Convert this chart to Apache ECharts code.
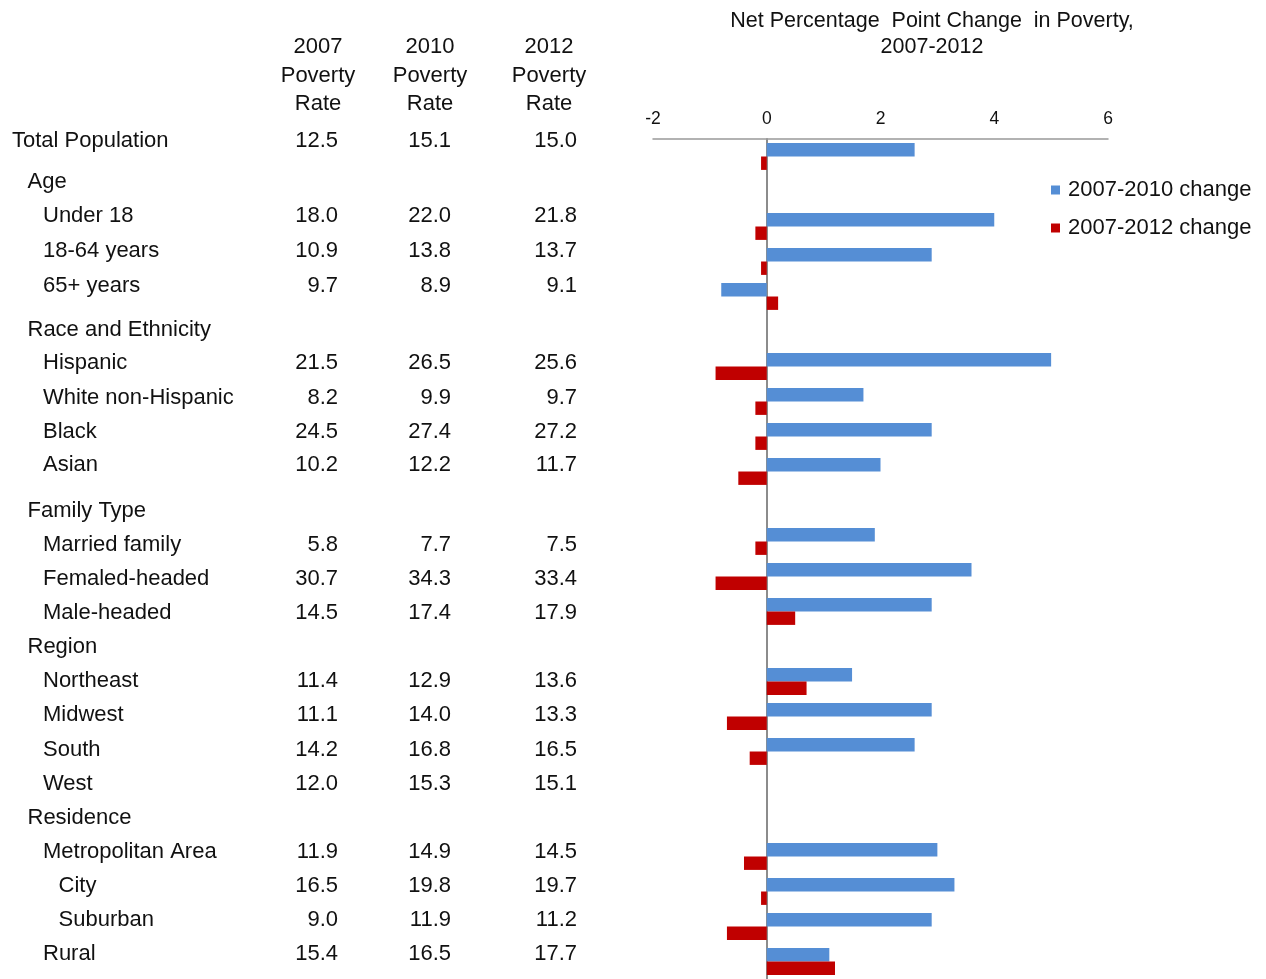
<!DOCTYPE html>
<html>
<head>
<meta charset="utf-8">
<script src="https://cdn.jsdelivr.net/npm/echarts@6/dist/echarts.min.js"></script>
<style>
  html, body { margin: 0; padding: 0; background: #fff; }
  #chart { width: 1266px; height: 979px; }
</style>
</head>
<body>
<div id="chart"></div>
<script>
// Row labels of the table (also the categories of the bar chart)
var rowLabels = ['Total Population', 'Age', 'Under 18', '18-64 years', '65+ years',
  'Race and Ethnicity', 'Hispanic', 'White non-Hispanic', 'Black', 'Asian',
  'Family Type', 'Married family', 'Femaled-headed', 'Male-headed',
  'Region', 'Northeast', 'Midwest', 'South', 'West',
  'Residence', 'Metropolitan Area', 'City', 'Suburban', 'Rural'];

// Poverty rates (%), null for group headings
var rate2007 = [12.5, null, 18.0, 10.9, 9.7, null, 21.5, 8.2, 24.5, 10.2, null, 5.8, 30.7, 14.5, null, 11.4, 11.1, 14.2, 12.0, null, 11.9, 16.5, 9.0, 15.4];
var rate2010 = [15.1, null, 22.0, 13.8, 8.9, null, 26.5, 9.9, 27.4, 12.2, null, 7.7, 34.3, 17.4, null, 12.9, 14.0, 16.8, 15.3, null, 14.9, 19.8, 11.9, 16.5];
var rate2012 = [15.0, null, 21.8, 13.7, 9.1, null, 25.6, 9.7, 27.2, 11.7, null, 7.5, 33.4, 17.9, null, 13.6, 13.3, 16.5, 15.1, null, 14.5, 19.7, 11.2, 17.7];

// Net percentage point changes shown as bars
var change0710 = [2.6, null, 4.0, 2.9, -0.8, null, 5.0, 1.7, 2.9, 2.0, null, 1.9, 3.6, 2.9, null, 1.5, 2.9, 2.6, null, null, 3.0, 3.3, 2.9, 1.1];
var change0712 = [-0.1, null, -0.2, -0.1, 0.2, null, -0.9, -0.2, -0.2, -0.5, null, -0.2, -0.9, 0.5, null, 0.7, -0.7, -0.3, null, null, -0.4, -0.1, -0.7, 1.2];

var seriesNames = ['2007-2010 change', '2007-2012 change'];
var columnHeads = [['2007', 'Poverty', 'Rate'], ['2010', 'Poverty', 'Rate'], ['2012', 'Poverty', 'Rate']];
var chartTitle = ['Net Percentage  Point Change  in Poverty,', '2007-2012'];
var xTicks = { min: -2, max: 6, step: 2 };

// ---- layout of the table ----
var FONT = '"Liberation Sans", Arial, sans-serif';
var TEXT = '#111';
var rowY = [141, 182, 216, 251, 286, 330, 363, 398, 432, 465, 511, 545, 579, 613, 647, 681, 715, 750, 784, 818, 852, 886, 920, 954];
var indent = [0, 1, 2, 2, 2, 1, 2, 2, 2, 2, 1, 2, 2, 2, 1, 2, 2, 2, 2, 1, 2, 3, 3, 2];
var colRight = [338, 451, 577];
var headCenter = [318, 430, 549];
var headY = [47, 75.5, 104];

function txt(str, x, y, align, size) {
  return {
    type: 'text', x: x, y: y, silent: true,
    style: {
      text: str, fill: TEXT, font: size + 'px ' + FONT,
      textAlign: align, textVerticalAlign: 'middle',
      align: align, verticalAlign: 'middle'
    }
  };
}

var graphics = [];
rowLabels.forEach(function (lab, i) {
  graphics.push(txt(lab, 12 + indent[i] * 15.5, rowY[i], 'left', 22));
  [rate2007, rate2010, rate2012].forEach(function (arr, c) {
    if (arr[i] != null) graphics.push(txt(arr[i].toFixed(1), colRight[c], rowY[i], 'right', 22));
  });
});
columnHeads.forEach(function (lines, c) {
  lines.forEach(function (s, k) { graphics.push(txt(s, headCenter[c], headY[k], 'center', 22)); });
});
chartTitle.forEach(function (s, k) { graphics.push(txt(s, 932, 21 + k * 26, 'center', 21.5)); });

var chart = echarts.init(document.getElementById('chart'), null, { renderer: 'canvas' });
chart.setOption({
  animation: false,
  backgroundColor: '#fff',
  textStyle: { fontFamily: FONT },
  graphic: graphics,
  legend: {
    orient: 'vertical', left: 1051, top: 179, padding: 0,
    icon: 'rect', itemWidth: 9, itemHeight: 9, itemGap: 16,
    data: seriesNames,
    textStyle: { fontSize: 22, color: TEXT, fontFamily: FONT, lineHeight: 22, padding: [0, 0, 0, 3] }
  },
  grid: { left: 653, top: 139, width: 455, height: 844.5, containLabel: false },
  xAxis: {
    type: 'value', position: 'top',
    min: xTicks.min, max: xTicks.max, interval: xTicks.step,
    axisLine: { show: true, onZero: false, lineStyle: { color: '#999', width: 1.5 } },
    axisTick: { show: false },
    splitLine: { show: false },
    axisLabel: { color: TEXT, fontSize: 17.5, margin: 11, fontFamily: FONT }
  },
  yAxis: {
    type: 'category', inverse: true, data: rowLabels,
    axisLine: { show: true, onZero: true, lineStyle: { color: '#8c8c8c', width: 2 } },
    axisTick: { show: false },
    axisLabel: { show: false },
    splitLine: { show: false }
  },
  series: [
    { name: seriesNames[0], type: 'bar', data: change0710, barWidth: 13.4, barGap: '0%',
      itemStyle: { color: '#558ED5' } },
    { name: seriesNames[1], type: 'bar', data: change0712, barWidth: 13.4, barGap: '0%',
      itemStyle: { color: '#C00000' } }
  ]
});
</script>
</body>
</html>
